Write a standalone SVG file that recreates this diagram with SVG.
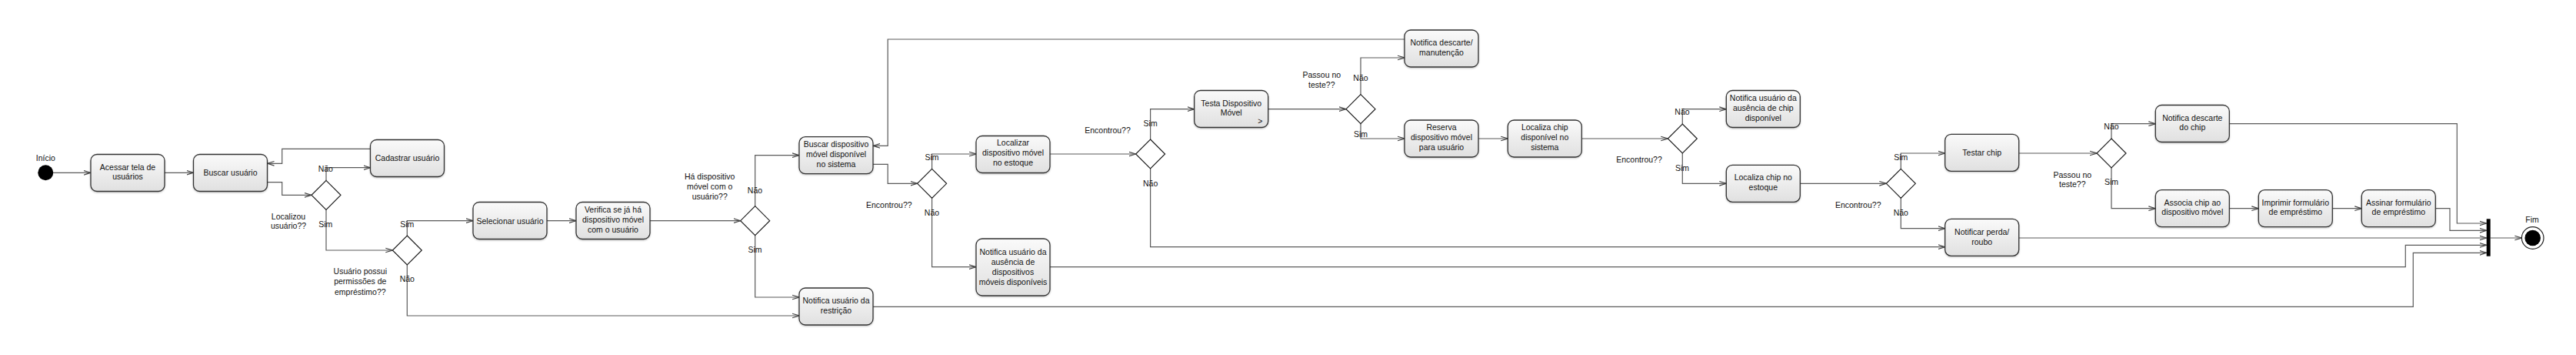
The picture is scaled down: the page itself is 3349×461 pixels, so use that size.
<svg xmlns="http://www.w3.org/2000/svg" width="3349" height="461" viewBox="0 0 3349 461">
<style>
text{font-family:"Liberation Sans",Arial,sans-serif;font-size:10.5px;fill:#111;text-anchor:middle}
.box{fill:url(#g);stroke:#333;stroke-width:1.3;filter:url(#sh)}
.dia{fill:#fff;stroke:#222;stroke-width:1.2}
.c{fill:none;stroke:#5a5a5a;stroke-width:1.2;marker-end:url(#ar)}
</style>
<defs>
<linearGradient id="g" x1="0" y1="0" x2="0" y2="1"><stop offset="0" stop-color="#fafafa"/><stop offset="1" stop-color="#e0e0e0"/></linearGradient>
<filter id="sh" x="-10%" y="-10%" width="120%" height="130%"><feDropShadow dx="0" dy="1" stdDeviation="1" flood-color="#000" flood-opacity="0.25"/></filter>
<marker id="ar" viewBox="0 0 9 8" markerWidth="9" markerHeight="8" refX="9" refY="4" orient="auto" markerUnits="userSpaceOnUse"><path d="M0,1.2 L9,4 L0,6.8" fill="none" stroke="#444" stroke-width="1.2"/></marker>
</defs>
<rect width="3349" height="461" fill="#fff"/>
<g id="connectors">
<path class="c" d="M69.3,224.3 H118"/>
<path class="c" d="M214,224.3 H251.5"/>
<path class="c" d="M347.5,236.7 H366.7 V253.3 H405"/>
<path class="c" d="M424,234.3 V217.7 H481.5"/>
<path class="c" d="M481.5,193.3 H366.7 V212.3 H347.5"/>
<path class="c" d="M424,272.3 V325 H510.3"/>
<path class="c" d="M529.3,306 V286.7 H615"/>
<path class="c" d="M711,286.7 H749"/>
<path class="c" d="M845,286.7 H962.7"/>
<path class="c" d="M981.7,267.7 V201.7 H1039"/>
<path class="c" d="M981.7,305.7 V386 H1039"/>
<path class="c" d="M529.3,344 V410 H1039"/>
<path class="c" d="M1135,213.3 H1154.2 V238.3 H1192.6"/>
<path class="c" d="M1211.6,219.3 V200 H1269"/>
<path class="c" d="M1211.6,257.3 V346.7 H1269"/>
<path class="c" d="M1365,200 H1476.6"/>
<path class="c" d="M1495.6,181 V141.7 H1552.7"/>
<path class="c" d="M1495.6,219 V320.7 H2528.7"/>
<path class="c" d="M1648.7,141.7 H1750"/>
<path class="c" d="M1769,122.7 V75 H1826"/>
<path class="c" d="M1769,160.7 V180 H1826"/>
<path class="c" d="M1826,51 H1154.2 V189.3 H1135"/>
<path class="c" d="M1922,180 H1960.3"/>
<path class="c" d="M2056.3,180 H2168.3"/>
<path class="c" d="M2187.3,161 V141.7 H2244.3"/>
<path class="c" d="M2187.3,199 V238.3 H2244.3"/>
<path class="c" d="M2340.3,238.3 H2452.3"/>
<path class="c" d="M2471.3,219.3 V199 H2528.7"/>
<path class="c" d="M2471.3,257.3 V296.7 H2528.7"/>
<path class="c" d="M2624.3,199 H2726"/>
<path class="c" d="M2745,180 V160.7 H2802.3"/>
<path class="c" d="M2745,218 V270.7 H2802.3"/>
<path class="c" d="M2898.3,270.7 H2936.3"/>
<path class="c" d="M3032.3,270.7 H3070.3"/>
<path class="c" d="M2898.3,160.7 H3194.3 V290 H3232.7"/>
<path class="c" d="M3166.3,270.7 H3185 V299.3 H3232.7"/>
<path class="c" d="M2624.3,309 H3232.7"/>
<path class="c" d="M1365,346.7 H3127.3 V318.3 H3232.7"/>
<path class="c" d="M1135,398.3 H3137.3 V328.3 H3232.7"/>
<path class="c" d="M3237.7,309 H3278.4"/>
</g>
<g id="labels">
<text x="423.3" y="222.7">Não</text>
<text x="375" y="284.7">Localizou</text><text x="375" y="297">usuário??</text>
<text x="423.3" y="294.7">Sim</text>
<text x="529.3" y="294.7">Sim</text>
<text x="468.3" y="356.4">Usuário possui</text><text x="468.3" y="369">permissões de</text><text x="468.3" y="382.7">empréstimo??</text>
<text x="529.3" y="366">Não</text>
<text x="922.7" y="233">Há dispositivo</text><text x="922.7" y="246">móvel com o</text><text x="922.7" y="259">usuário??</text>
<text x="981.5" y="250.7">Não</text>
<text x="981.5" y="327.7">Sim</text>
<text x="1211.5" y="207.7">Sim</text>
<text x="1155.8" y="269.7">Encontrou??</text>
<text x="1211.5" y="279.7">Não</text>
<text x="1440" y="172.7">Encontrou??</text>
<text x="1495.6" y="163.7">Sim</text>
<text x="1495.6" y="242">Não</text>
<text x="1718.3" y="101">Passou no</text><text x="1718.3" y="113.7">teste??</text>
<text x="1769" y="104.7">Não</text>
<text x="1769" y="177.7">Sim</text>
<text x="2131" y="210.7">Encontrou??</text>
<text x="2187" y="148.7">Não</text>
<text x="2187" y="222">Sim</text>
<text x="2415.7" y="269.7">Encontrou??</text>
<text x="2471.3" y="207.7">Sim</text>
<text x="2471.3" y="279.7">Não</text>
<text x="2694.3" y="231">Passou no</text><text x="2694.3" y="242.7">teste??</text>
<text x="2745" y="168">Não</text>
<text x="2745" y="239.7">Sim</text>
</g>
<g id="inicio"><circle cx="59.3" cy="224.3" r="10" fill="#000"/><text x="59.3" y="208.7">Início</text></g>
<g id="acessar"><rect class="box" x="118" y="200.5" width="96" height="48" rx="8"/><text x="166" y="221">Acessar tela de</text><text x="166" y="233">usuários</text></g>
<g id="buscar-usuario"><rect class="box" x="251.5" y="200.5" width="96" height="48" rx="8"/><text x="299.5" y="228">Buscar usuário</text></g>
<g id="cadastrar"><rect class="box" x="481.5" y="181.5" width="96" height="48" rx="8"/><text x="529.5" y="209">Cadastrar usuário</text></g>
<g id="d1"><path class="dia" d="M424,234.3 L443,253.3 L424,272.3 L405,253.3 Z"/></g>
<g id="d2"><path class="dia" d="M529.3,306 L548.3,325 L529.3,344 L510.3,325 Z"/></g>
<g id="selecionar"><rect class="box" x="615" y="262.5" width="96" height="48" rx="8"/><text x="663" y="290.5">Selecionar usuário</text></g>
<g id="verifica"><rect class="box" x="749" y="262.5" width="96" height="48" rx="8"/><text x="797" y="276">Verifica se já há</text><text x="797" y="289">dispositivo móvel</text><text x="797" y="302">com o usuário</text></g>
<g id="d3"><path class="dia" d="M981.7,267.7 L1000.7,286.7 L981.7,305.7 L962.7,286.7 Z"/></g>
<g id="buscar-disp"><rect class="box" x="1039" y="177.7" width="96" height="48" rx="8"/><text x="1087" y="191">Buscar dispositivo</text><text x="1087" y="204">móvel disponível</text><text x="1087" y="217">no sistema</text></g>
<g id="notifica-restricao"><rect class="box" x="1039" y="374" width="96" height="48" rx="8"/><text x="1087" y="393.7">Notifica usuário da</text><text x="1087" y="407">restrição</text></g>
<g id="d4"><path class="dia" d="M1211.6,219.3 L1230.6,238.3 L1211.6,257.3 L1192.6,238.3 Z"/></g>
<g id="localizar-disp"><rect class="box" x="1269" y="176.5" width="96" height="48" rx="8"/><text x="1317" y="189">Localizar</text><text x="1317" y="202">dispositivo móvel</text><text x="1317" y="215">no estoque</text></g>
<g id="notifica-ausencia-disp"><rect class="box" x="1269" y="310" width="96" height="74" rx="8"/><text x="1317" y="331">Notifica usuário da</text><text x="1317" y="344">ausência de</text><text x="1317" y="357">dispositivos</text><text x="1317" y="370">móveis disponíveis</text></g>
<g id="d5"><path class="dia" d="M1495.6,181 L1514.6,200 L1495.6,219 L1476.6,200 Z"/></g>
<g id="testa-disp"><rect class="box" x="1552.7" y="117.5" width="96" height="48" rx="8"/><text x="1600.7" y="138">Testa Dispositivo</text><text x="1600.7" y="150">Móvel</text><text x="1638.3" y="160.5">&gt;</text></g>
<g id="d6"><path class="dia" d="M1769,122.7 L1788,141.7 L1769,160.7 L1750,141.7 Z"/></g>
<g id="notifica-descarte-manut"><rect class="box" x="1826" y="39" width="96" height="48" rx="8"/><text x="1874" y="58.7">Notifica descarte/</text><text x="1874" y="72">manutenção</text></g>
<g id="reserva"><rect class="box" x="1826" y="156" width="96" height="48" rx="8"/><text x="1874" y="169">Reserva</text><text x="1874" y="182">dispositivo móvel</text><text x="1874" y="195">para usuário</text></g>
<g id="localiza-chip"><rect class="box" x="1960.3" y="156" width="96" height="48" rx="8"/><text x="2008.3" y="169">Localiza chip</text><text x="2008.3" y="182">disponível no</text><text x="2008.3" y="195">sistema</text></g>
<g id="d7"><path class="dia" d="M2187.3,161 L2206.3,180 L2187.3,199 L2168.3,180 Z"/></g>
<g id="notifica-ausencia-chip"><rect class="box" x="2244.3" y="117.5" width="96" height="48" rx="8"/><text x="2292.3" y="131">Notifica usuário da</text><text x="2292.3" y="143.5">ausência de chip</text><text x="2292.3" y="157">disponível</text></g>
<g id="localiza-chip-estoque"><rect class="box" x="2244.3" y="214.3" width="96" height="48" rx="8"/><text x="2292.3" y="234">Localiza chip no</text><text x="2292.3" y="247">estoque</text></g>
<g id="d8"><path class="dia" d="M2471.3,219.3 L2490.3,238.3 L2471.3,257.3 L2452.3,238.3 Z"/></g>
<g id="testar-chip"><rect class="box" x="2528.7" y="174.3" width="96" height="48" rx="8"/><text x="2576.7" y="202">Testar chip</text></g>
<g id="notificar-perda"><rect class="box" x="2528.7" y="284.3" width="96" height="48" rx="8"/><text x="2576.7" y="305">Notificar perda/</text><text x="2576.7" y="318">roubo</text></g>
<g id="d9"><path class="dia" d="M2745,180 L2764,199 L2745,218 L2726,199 Z"/></g>
<g id="notifica-descarte-chip"><rect class="box" x="2802.3" y="136.5" width="96" height="48" rx="8"/><text x="2850.3" y="157">Notifica descarte</text><text x="2850.3" y="169">do chip</text></g>
<g id="associa"><rect class="box" x="2802.3" y="246.7" width="96" height="48" rx="8"/><text x="2850.3" y="267">Associa chip ao</text><text x="2850.3" y="279">dispositivo móvel</text></g>
<g id="imprimir"><rect class="box" x="2936.3" y="246.7" width="96" height="48" rx="8"/><text x="2984.3" y="267">Imprimir formulário</text><text x="2984.3" y="279">de empréstimo</text></g>
<g id="assinar"><rect class="box" x="3070.3" y="246.7" width="96" height="48" rx="8"/><text x="3118.3" y="267">Assinar formulário</text><text x="3118.3" y="279">de empréstimo</text></g>
<g id="join"><rect x="3232.7" y="284.3" width="5" height="48.4" fill="#000"/></g>
<g id="fim"><circle cx="3292.7" cy="309" r="14.3" fill="#fff" stroke="#222" stroke-width="1.2"/><circle cx="3292.7" cy="309" r="10.3" fill="#000"/><text x="3292" y="289">Fim</text></g>
</svg>
